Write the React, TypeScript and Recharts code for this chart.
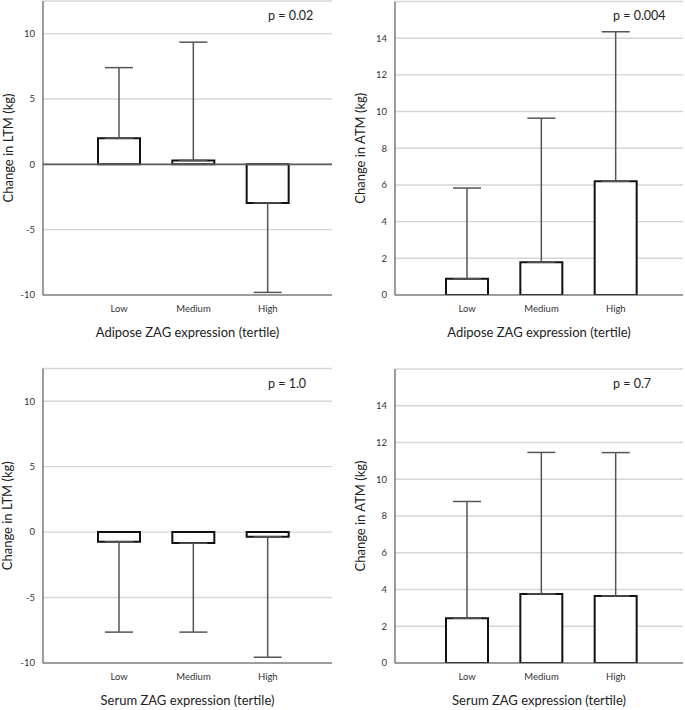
import React from "react";
import { BarChart, Bar, XAxis, YAxis, CartesianGrid, ErrorBar, ReferenceLine } from "recharts";

const TERTILES = ["Low", "Medium", "High"];

// mean change per tertile, and the error bar length (drawn away from zero)
const ADIPOSE_LTM = [2.0, 0.3, -2.95];
const ADIPOSE_LTM_ERR = [5.4, 9.05, 6.85];
const ADIPOSE_ATM = [0.88, 1.79, 6.2];
const ADIPOSE_ATM_ERR = [4.95, 7.85, 8.15];
const SERUM_LTM = [-0.74, -0.84, -0.36];
const SERUM_LTM_ERR = [6.9, 6.8, 9.2];
const SERUM_ATM = [2.44, 3.76, 3.65];
const SERUM_ATM_ERR = [6.35, 7.7, 7.8];

const LTM_TICKS = [-10, -5, 0, 5, 10];
const ATM_TICKS = [0, 2, 4, 6, 8, 10, 12, 14];

const FONT = "Lato, 'Liberation Sans', sans-serif";
const BORDER = "#5a5a5a";

function buildRows(values: number[], errs: number[]) {
  return TERTILES.map((name, i) => ({
    name,
    value: values[i],
    err: values[i] >= 0 ? [0, errs[i]] : [errs[i], 0],
  }));
}

type PanelProps = {
  left: number;
  top: number;
  width: number;
  height: number;
  marginTop: number;
  marginRight: number;
  yWidth: number;
  padLeft: number;
  padRight: number;
  yLabelOffset: number;
  values: number[];
  errs: number[];
  domain: [number, number];
  ticks: number[];
  yLabel: string;
  xLabel: string;
  p: string;
  pLeft: number;
  pTop: number;
  zeroLine?: boolean;
};

function Panel(props: PanelProps) {
  const data = buildRows(props.values, props.errs);
  const axisLine = { stroke: BORDER, strokeWidth: 1.2 };
  return (
    <div style={{ position: "absolute", left: props.left, top: props.top, width: props.width, height: props.height }}>
      <BarChart
        width={props.width}
        height={props.height}
        data={data}
        margin={{ top: props.marginTop, right: props.marginRight, bottom: 0, left: 0 }}
      >
        <CartesianGrid vertical={false} stroke="#d6d6d6" strokeWidth={1.4} />
        <XAxis
          dataKey="name"
          height={47}
          padding={{ left: props.padLeft, right: props.padRight }}
          axisLine={axisLine}
          tickLine={false}
          tickMargin={4}
          tick={{ fontSize: 9.5, fill: "#333", fontFamily: FONT }}
          label={{ value: props.xLabel, position: "insideBottom", offset: 5, fontSize: 13, fill: "#222", fontFamily: FONT }}
        />
        <XAxis xAxisId="top" orientation="top" dataKey="name" height={0} tick={false} tickLine={false} axisLine={axisLine} />
        <YAxis
          width={props.yWidth}
          domain={props.domain}
          ticks={props.ticks}
          type="number"
          allowDataOverflow
          axisLine={axisLine}
          tickLine={false}
          tick={{ fontSize: 9.5, fill: "#333", fontFamily: FONT }}
          label={{
            value: props.yLabel,
            angle: -90,
            position: "insideLeft",
            offset: props.yLabelOffset,
            style: { textAnchor: "middle" },
            fontSize: 13,
            fill: "#222",
            fontFamily: FONT,
          }}
        />
        <YAxis yAxisId="right" orientation="right" width={0} domain={props.domain} type="number" tick={false} tickLine={false} axisLine={axisLine} />
        {props.zeroLine && <ReferenceLine y={0} stroke={BORDER} strokeWidth={1.8} />}
        <Bar dataKey="value" barSize={42} fill="#ffffff" stroke="#111111" strokeWidth={2} isAnimationActive={false}>
          <ErrorBar dataKey="err" direction="y" width={14} stroke="#555555" strokeWidth={1.5} isAnimationActive={false} />
        </Bar>
      </BarChart>
      <div
        style={{
          position: "absolute",
          left: props.pLeft,
          top: props.pTop,
          fontSize: 12.5,
          lineHeight: "12.5px",
          fontFamily: FONT,
          color: "#222",
          whiteSpace: "nowrap",
        }}
      >
        {props.p}
      </div>
    </div>
  );
}

export default function App() {
  return (
    <div style={{ position: "absolute", left: 0, top: 0, width: 685, height: 710, background: "#fff", fontFamily: FONT }}>
      <Panel
        left={0} top={0} width={340} height={342} marginTop={1} marginRight={8} yWidth={43}
        padLeft={39} padRight={27} yLabelOffset={8}
        values={ADIPOSE_LTM} errs={ADIPOSE_LTM_ERR} domain={[-10, 12.5]} ticks={LTM_TICKS}
        yLabel="Change in LTM (kg)" xLabel="Adipose ZAG expression (tertile)" p="p = 0.02"
        pLeft={268} pTop={10} zeroLine
      />
      <Panel
        left={340} top={0} width={345} height={342} marginTop={1.5} marginRight={2} yWidth={55}
        padLeft={35} padRight={30} yLabelOffset={20.5}
        values={ADIPOSE_ATM} errs={ADIPOSE_ATM_ERR} domain={[0, 16]} ticks={ATM_TICKS}
        yLabel="Change in ATM (kg)" xLabel="Adipose ZAG expression (tertile)" p="p = 0.004"
        pLeft={273} pTop={10}
      />
      <Panel
        left={0} top={360} width={340} height={350} marginTop={8.5} marginRight={8} yWidth={43}
        padLeft={39} padRight={27} yLabelOffset={7}
        values={SERUM_LTM} errs={SERUM_LTM_ERR} domain={[-10, 12.5]} ticks={LTM_TICKS}
        yLabel="Change in LTM (kg)" xLabel="Serum ZAG expression (tertile)" p="p = 1.0"
        pLeft={268} pTop={18}
      />
      <Panel
        left={340} top={360} width={345} height={350} marginTop={9} marginRight={2} yWidth={55}
        padLeft={35} padRight={30} yLabelOffset={20.5}
        values={SERUM_ATM} errs={SERUM_ATM_ERR} domain={[0, 16]} ticks={ATM_TICKS}
        yLabel="Change in ATM (kg)" xLabel="Serum ZAG expression (tertile)" p="p = 0.7"
        pLeft={273} pTop={18}
      />
    </div>
  );
}
